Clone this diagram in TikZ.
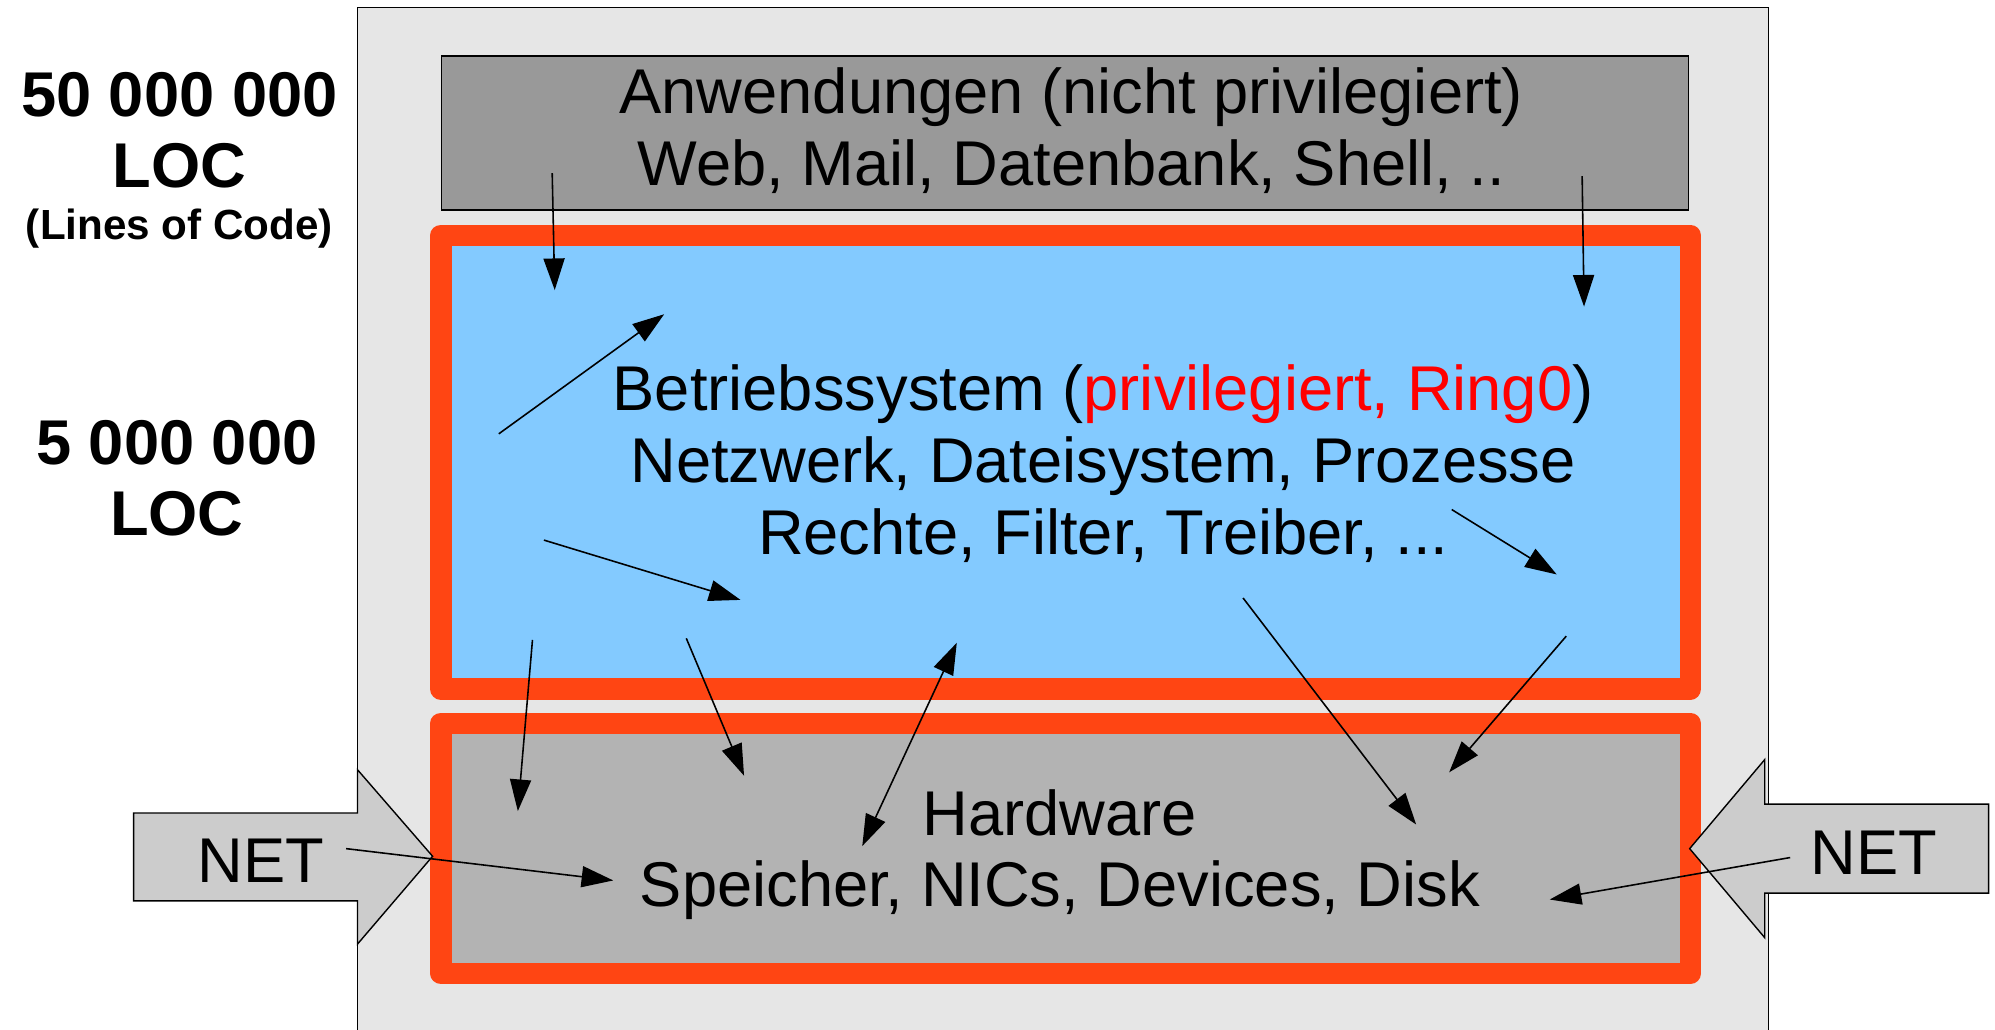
\documentclass[tikz,border=0pt]{standalone}
\usepackage{fontspec}
\setmainfont{Liberation Sans}
\usetikzlibrary{arrows.meta}

\definecolor{panelgray}{HTML}{E6E6E6}
\definecolor{appgray}{HTML}{999999}
\definecolor{ringorange}{HTML}{FF4513}
\definecolor{kernelblue}{HTML}{83CAFF}
\definecolor{hwgray}{HTML}{B3B3B3}
\definecolor{netgray}{HTML}{CCCCCC}
\definecolor{privred}{HTML}{FF0000}

\begin{document}
\begin{tikzpicture}[x=0.012723cm, y=-0.012723cm,
    font=\fontsize{18}{20.4}\selectfont,
    >={Triangle[length=9pt, width=6pt]},
    flow/.style={line width=0.45pt},
    ring/.style={draw=ringorange, line width=6.1pt, line join=round},
    loc/.style={align=center, font=\fontsize{18}{20.2}\selectfont\bfseries}]
    \useasboundingbox (0,0) rectangle (1568,809);
    \clip (0,0) rectangle (1568,809);
    % Schichten
    \draw[fill=panelgray, line width=0.4pt] (281,6) rectangle (1390,830);
    \draw[fill=appgray, line width=0.4pt] (347,44) rectangle (1327,165);
    \draw[ring, fill=kernelblue] (346.5,185) rectangle (1328.5,541.5);
    \draw[ring, fill=hwgray] (346.5,568.5) rectangle (1328.5,765);
    % Netzwerk-Pfeile
    \draw[fill=netgray, line width=0.4pt] (105,639) -- (281,639) -- (281,605) -- (340,673)
        -- (281,742) -- (281,708) -- (105,708) -- cycle;
    \draw[fill=netgray, line width=0.4pt] (1563,632) -- (1387,632) -- (1387,597) -- (1328,667)
        -- (1387,737) -- (1387,702) -- (1563,702) -- cycle;
    % Texte
    \node (apps) at (842,102.8) [align=center] {Anwendungen (nicht privilegiert)\\Web, Mail, Datenbank, Shell, ..};
    \node (os) at (867,364.3) [align=center] {Betriebssystem (\textcolor{privred}{privilegiert, Ring0})\\Netzwerk, Dateisystem, Prozesse\\Rechte, Filter, Treiber, ...};
    \node (hw) at (833,671.8) [align=center] {Hardware\\Speicher, NICs, Devices, Disk};
    \node (loc50) at (141,102.2) [loc] {50 000 000\\LOC};
    \node (lines) at (141,188.6) [anchor=base, font=\fontsize{12}{14}\selectfont\bfseries] {(Lines of Code)};
    \node (loc5) at (139,376.2) [loc] {5 000 000\\LOC};
    \node (netL) at (205,694) [anchor=base] {NET};
    \node (netR) at (1473,687) [anchor=base] {NET};
    % Pfeile
    \coordinate (s1) at (434,136);    \coordinate (e1) at (436,228);
    \coordinate (s2) at (1243.5,138.5); \coordinate (e2) at (1245,241);
    \coordinate (s3) at (392,341);    \coordinate (e3) at (522,247);
    \coordinate (s4) at (427.5,424.5); \coordinate (e4) at (582,471.5);
    \coordinate (s5) at (1141,400.5); \coordinate (e5) at (1223.5,451.5);
    \coordinate (s6) at (418.5,503);  \coordinate (e6) at (407,637.5);
    \coordinate (s7) at (539.4,501.7); \coordinate (e7) at (584.8,609.7);
    \coordinate (s8) at (677.7,665);  \coordinate (e8) at (752,505.2);
    \coordinate (s9) at (977,470);    \coordinate (e9) at (1113,648);
    \coordinate (s10) at (1231,500);  \coordinate (e10) at (1139,607);
    \coordinate (s11) at (272,667);   \coordinate (e11) at (482,692);
    \coordinate (s12) at (1407,674);  \coordinate (e12) at (1218,707);
    \draw[flow, ->] (s1) -- (e1);
    \draw[flow, ->] (s2) -- (e2);
    \draw[flow, ->] (s3) -- (e3);
    \draw[flow, ->] (s4) -- (e4);
    \draw[flow, ->] (s5) -- (e5);
    \draw[flow, ->] (s6) -- (e6);
    \draw[flow, ->] (s7) -- (e7);
    \draw[flow, <->] (s8) -- (e8);
    \draw[flow, ->] (s9) -- (e9);
    \draw[flow, ->] (s10) -- (e10);
    \draw[flow, ->] (s11) -- (e11);
    \draw[flow, ->] (s12) -- (e12);
\end{tikzpicture}
\end{document}
